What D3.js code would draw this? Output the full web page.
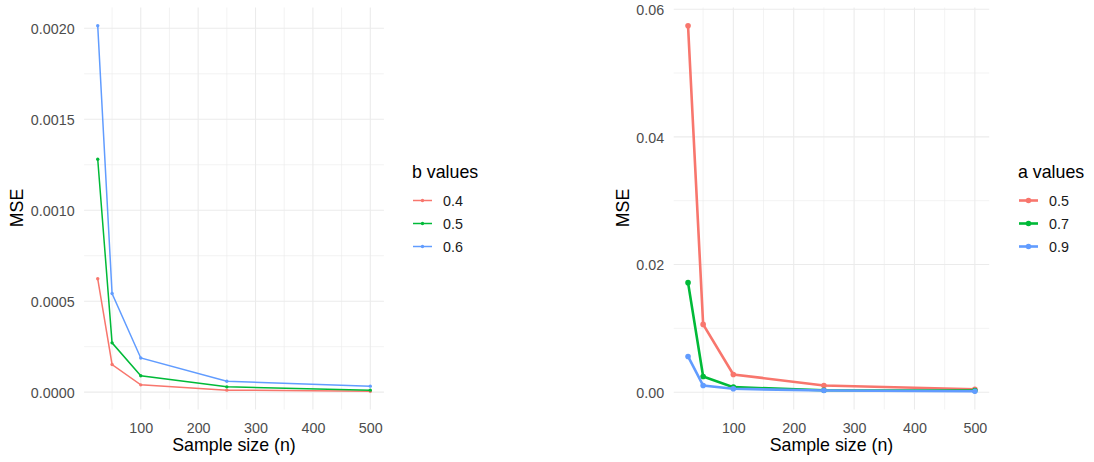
<!DOCTYPE html>
<html>
<head>
<meta charset="utf-8">
<script src="https://cdn.jsdelivr.net/npm/d3@7"></script>
<style>
  body { margin: 0; background: #fff; }
  svg { display: block; font-family: "Liberation Sans", Arial, sans-serif; }
</style>
</head>
<body>
<svg id="chart" width="1094" height="462"></svg>
<script>
// Data
const sampleSizes = [25, 50, 100, 250, 500];

const bLevels = ['0.4', '0.5', '0.6'];
const mseB04 = [0.000623, 0.000152, 0.000040, 0.000011, 0.000005];
const mseB05 = [0.001280, 0.000271, 0.000090, 0.000029, 0.000011];
const mseB06 = [0.002014, 0.000542, 0.000188, 0.000060, 0.000033];

const aLevels = ['0.5', '0.7', '0.9'];
const mseA05 = [0.0574, 0.01062, 0.00278, 0.00105, 0.00047];
const mseA07 = [0.01716, 0.00246, 0.00079, 0.00030, 0.00025];
const mseA09 = [0.0056, 0.00105, 0.00053, 0.00027, 0.00015];

const xTicks = [100, 200, 300, 400, 500];
const xMinor = [50, 150, 250, 350, 450];
const bTicks = [0, 0.0005, 0.0010, 0.0015, 0.0020];
const aTicks = [0, 0.02, 0.04, 0.06];

const colors = ['#F8766D', '#00BA38', '#619CFF'];

const svg = d3.select('#chart');

// ggplot style 5% expansion
function expand(ext) {
    const r = ext[1] - ext[0];
    return [ext[0] - 0.05 * r, ext[1] + 0.05 * r];
}

function drawPanel(opts) {
    const g = svg.append('g');
    const allY = opts.series.flat();

    const x = d3.scaleLinear()
        .domain(expand(d3.extent(sampleSizes)))
        .range([opts.left, opts.right]);
    const y = d3.scaleLinear()
        .domain(expand(d3.extent(allY)))
        .range([409.5, 7.5]);

    const yMinor = opts.yTicks.slice(0, -1).map((t, i) => (t + opts.yTicks[i + 1]) / 2);

    // minor grid
    g.selectAll('.xminor').data(xMinor).enter().append('line')
        .attr('x1', d => x(d)).attr('x2', d => x(d))
        .attr('y1', y.range()[0]).attr('y2', y.range()[1])
        .attr('stroke', '#EBEBEB').attr('stroke-width', 0.6);
    g.selectAll('.yminor').data(yMinor).enter().append('line')
        .attr('y1', d => y(d)).attr('y2', d => y(d))
        .attr('x1', opts.left).attr('x2', opts.right)
        .attr('stroke', '#EBEBEB').attr('stroke-width', 0.6);

    // major grid
    g.selectAll('.xmajor').data(xTicks).enter().append('line')
        .attr('x1', d => x(d)).attr('x2', d => x(d))
        .attr('y1', y.range()[0]).attr('y2', y.range()[1])
        .attr('stroke', '#EBEBEB').attr('stroke-width', 1.1);
    g.selectAll('.ymajor').data(opts.yTicks).enter().append('line')
        .attr('y1', d => y(d)).attr('y2', d => y(d))
        .attr('x1', opts.left).attr('x2', opts.right)
        .attr('stroke', '#EBEBEB').attr('stroke-width', 1.1);

    // axes (labels only, like theme_minimal)
    const xAxis = g.append('g')
        .attr('transform', `translate(0,${y.range()[0]})`)
        .call(d3.axisBottom(x).tickValues(xTicks).tickSize(0).tickPadding(13));
    const yAxis = g.append('g')
        .attr('transform', `translate(${opts.left},0)`)
        .call(d3.axisLeft(y).tickValues(opts.yTicks).tickFormat(d3.format(opts.fmt)).tickSize(0).tickPadding(9.5));
    [xAxis, yAxis].forEach(a => {
        a.select('.domain').remove();
        a.selectAll('text')
            .attr('fill', '#4D4D4D')
            .style('font-size', '14.3px')
            .style('font-family', '"Liberation Sans", Arial, sans-serif');
    });
    yAxis.selectAll('text').attr('dy', '0.36em');

    // lines and points
    const line = d3.line()
        .x((d, i) => x(sampleSizes[i]))
        .y(d => y(d));

    opts.series.forEach((vals, k) => {
        g.append('path')
            .datum(vals)
            .attr('fill', 'none')
            .attr('stroke', colors[k])
            .attr('stroke-width', opts.lineWidth)
            .attr('d', line);
        g.selectAll('.pt' + k).data(vals).enter().append('circle')
            .attr('cx', (d, i) => x(sampleSizes[i]))
            .attr('cy', d => y(d))
            .attr('r', opts.pointR)
            .attr('fill', colors[k]);
    });

    // axis titles
    g.append('text')
        .attr('x', (opts.left + opts.right) / 2)
        .attr('y', 451)
        .attr('text-anchor', 'middle')
        .style('font-size', '17.8px')
        .text('Sample size (n)');
    g.append('text')
        .attr('transform', `translate(${opts.yTitleX},208) rotate(-90)`)
        .attr('text-anchor', 'middle')
        .style('font-size', '17.8px')
        .text('MSE');

    // legend
    const lg = g.append('g').attr('transform', `translate(${opts.legendX},0)`);
    lg.append('text')
        .attr('x', 0).attr('y', 178)
        .style('font-size', '17.8px')
        .text(opts.legendTitle);
    opts.levels.forEach((lab, k) => {
        const ky = 200.5 + k * 23;
        lg.append('line')
            .attr('x1', 1).attr('x2', 20)
            .attr('y1', ky).attr('y2', ky)
            .attr('stroke', colors[k])
            .attr('stroke-width', opts.lineWidth);
        lg.append('circle')
            .attr('cx', 10.5).attr('cy', ky)
            .attr('r', opts.pointR)
            .attr('fill', colors[k]);
        lg.append('text')
            .attr('x', 31).attr('y', ky)
            .attr('dy', '0.36em')
            .attr('fill', '#1A1A1A')
            .style('font-size', '14.3px')
            .text(lab);
    });
}

drawPanel({
    left: 84.1, right: 383.9,
    series: [mseB04, mseB05, mseB06],
    levels: bLevels,
    yTicks: bTicks, fmt: '.4f',
    lineWidth: 1.5, pointR: 1.7,
    yTitleX: 23,
    legendX: 412, legendTitle: 'b values'
});

drawPanel({
    left: 673.7, right: 989.2,
    series: [mseA05, mseA07, mseA09],
    levels: aLevels,
    yTicks: aTicks, fmt: '.2f',
    lineWidth: 2.6, pointR: 2.8,
    yTitleX: 629,
    legendX: 1018, legendTitle: 'a values'
});
</script>
</body>
</html>
